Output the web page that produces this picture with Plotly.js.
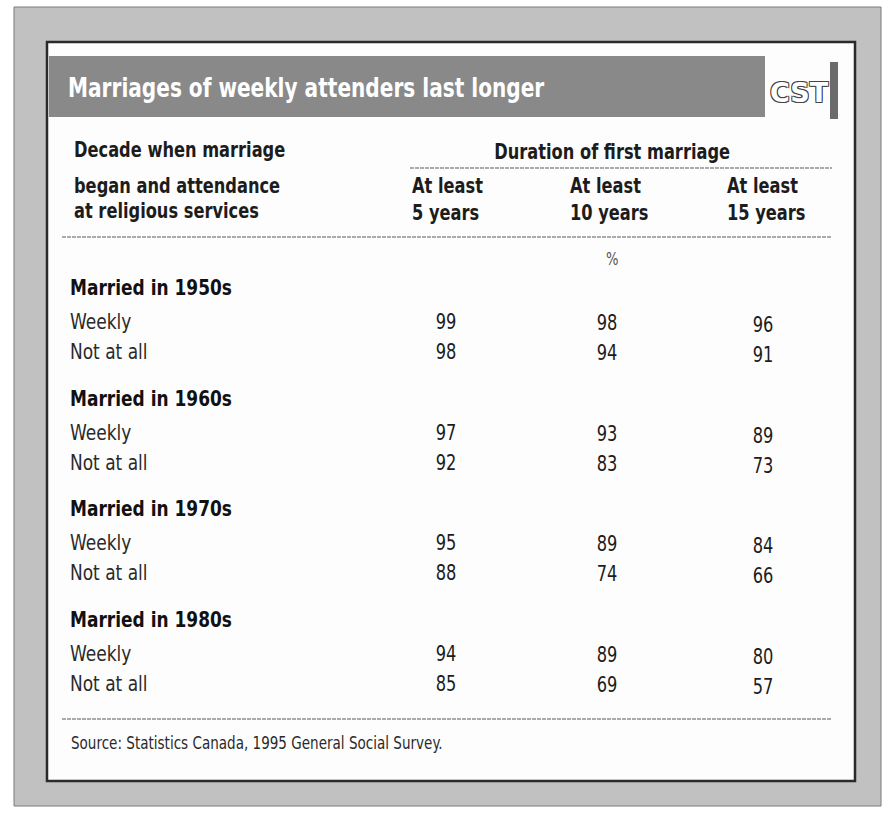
<!DOCTYPE html>
<html>
<head>
<meta charset="utf-8">
<script src="https://cdn.plot.ly/plotly-3.0.1.min.js"></script>
<style>
  html, body { margin: 0; padding: 0; background: #ffffff; }
  #chart { width: 888px; height: 813px; }
</style>
</head>
<body>
<div id="chart"></div>
<script>
// ---------------- DATA ----------------
const chartTitle = "Marriages of weekly attenders last longer";
const stubHeader = ["Decade when marriage", "began and attendance", "at religious services"];
const spannerHeader = "Duration of first marriage";
const columnHeaders = ["At least<br>5 years", "At least<br>10 years", "At least<br>15 years"];
const unitLabel = "%";
const decades = ["Married in 1950s", "Married in 1960s", "Married in 1970s", "Married in 1980s"];
const attendance = ["Weekly", "Not at all"];
// values listed as 1950s weekly, 1950s not at all, 1960s weekly, ...
const atLeast5Years  = [99, 98, 97, 92, 95, 88, 94, 85];
const atLeast10Years = [98, 94, 93, 83, 89, 74, 89, 69];
const atLeast15Years = [96, 91, 89, 73, 84, 66, 80, 57];
const sourceNote = "Source: Statistics Canada, 1995 General Social Survey.";
const logoText = "CST";

// ---------------- LAYOUT CONSTANTS ----------------
const W = 888, H = 813;
const FONT = "'Liberation Sans Narrow', 'DejaVu Sans Condensed', 'Arial Narrow', sans-serif";
const INK = "#1c1c1c";
const colX = [446, 607, 763];
const colDy = [0, 1, 3];            // slight skew of the scanned page
const headLeftX = [410, 568, 725];
const labelX = 70;
const groupY0 = 290, groupPitch = 110.5;
const rowOffset = [0, 34, 64];      // group header, weekly, not at all
const valueSize = 21, labelSize = 22, headSize = 21;
const NARROW = 0.86;                // horizontal condensing of the type

function rowY(g, r) { return groupY0 + g * groupPitch + rowOffset[r]; }

// ---------------- TRACES ----------------
const series = [atLeast5Years, atLeast10Years, atLeast15Years];
const traces = [];

const vx = [], vy = [], vt = [];
series.forEach((vals, c) => {
  vals.forEach((v, i) => {
    const g = Math.floor(i / attendance.length);
    const r = 1 + (i % attendance.length);
    vx.push(colX[c]); vy.push(rowY(g, r) + colDy[c]); vt.push(String(v));
  });
});
traces.push({
  type: "scatter", mode: "text", x: vx, y: vy, text: vt,
  textposition: "middle center",
  textfont: { family: FONT, size: valueSize, color: INK },
  hoverinfo: "skip", showlegend: false, cliponaxis: false
});

traces.push({
  type: "scatter", mode: "text",
  x: decades.map(() => labelX), y: decades.map((d, g) => rowY(g, 0)),
  text: decades.map(d => "<b>" + d + "</b>"),
  textposition: "middle right",
  textfont: { family: FONT, size: labelSize, color: "#111" },
  hoverinfo: "skip", showlegend: false, cliponaxis: false
});

const ax = [], ay = [], at = [];
decades.forEach((d, g) => {
  attendance.forEach((a, k) => { ax.push(labelX); ay.push(rowY(g, k + 1)); at.push(a); });
});
traces.push({
  type: "scatter", mode: "text", x: ax, y: ay, text: at,
  textposition: "middle right",
  textfont: { family: FONT, size: labelSize, color: "#2a2a2a" },
  hoverinfo: "skip", showlegend: false, cliponaxis: false
});

// ---------------- SHAPES ----------------
const ruleLine = { color: "#909090", width: 1.4, dash: "4px,1px" };
const shapes = [
  { type: "rect", xref: "x", yref: "y", x0: 14, x1: 881, y0: 7, y1: 806,
    fillcolor: "#c1c1c1", line: { color: "#7a7a7a", width: 1 }, layer: "below" },
  { type: "rect", xref: "x", yref: "y", x0: 47, x1: 855, y0: 42, y1: 781,
    fillcolor: "#fdfdfd", line: { color: "#2a2a2a", width: 2.5 }, layer: "below" },
  { type: "rect", xref: "x", yref: "y", x0: 49, x1: 765, y0: 56, y1: 117,
    fillcolor: "#898989", line: { width: 0 }, layer: "below" },
  { type: "rect", xref: "x", yref: "y", x0: 830, x1: 838, y0: 62, y1: 119,
    fillcolor: "#6b6b6b", line: { width: 0 }, layer: "below" },
  { type: "line", xref: "x", yref: "y", x0: 410, x1: 832, y0: 168, y1: 168, line: ruleLine },
  { type: "line", xref: "x", yref: "y", x0: 62, x1: 832, y0: 237, y1: 237, line: ruleLine },
  { type: "line", xref: "x", yref: "y", x0: 62, x1: 832, y0: 719, y1: 719, line: ruleLine }
];

// ---------------- ANNOTATIONS ----------------
const ann = [];
function addText(text, x, y, size, opts) {
  ann.push(Object.assign({
    text: text, x: x, y: y, xref: "x", yref: "y", showarrow: false,
    xanchor: "left", yanchor: "middle", align: "left",
    font: { family: FONT, size: size, color: INK }
  }, opts || {}));
}
addText("<b>" + chartTitle + "</b>", 66, 88, 26, { font: { family: FONT, size: 26, color: "#ffffff" } });
addText("<b>" + logoText + "</b>", 799, 92, 27, { xanchor: "center", align: "center",
  font: { family: "'DejaVu Sans', sans-serif", size: 27, color: "#ffffff",
          shadow: "1px 1px 0 #444, -1px -1px 0 #444, 1px -1px 0 #444, -1px 1px 0 #444" } });
addText("<b>" + stubHeader[0] + "</b>", 72, 150, headSize);
addText("<b>" + stubHeader[1] + "</b>", 72, 186, headSize);
addText("<b>" + stubHeader[2] + "</b>", 72, 211, headSize);
addText("<b>" + spannerHeader + "</b>", 612, 152, headSize, { xanchor: "center", align: "center" });
columnHeaders.forEach((h, c) => {
  addText("<b>" + h + "</b>", headLeftX[c], 199, headSize);
});
addText(unitLabel, colX[1] + 5, 259, 17, { xanchor: "center", align: "center",
  font: { family: FONT, size: 17, color: "#555" } });
addText(sourceNote, 69, 743, 17.5, { font: { family: FONT, size: 17.5, color: "#2a2a2a" } });

const layout = {
  width: W, height: H,
  margin: { l: 0, r: 0, t: 0, b: 0, pad: 0 },
  paper_bgcolor: "#ffffff", plot_bgcolor: "rgba(0,0,0,0)",
  xaxis: { range: [0, W], visible: false, fixedrange: true },
  yaxis: { range: [H, 0], visible: false, fixedrange: true },
  shapes: shapes, annotations: ann, showlegend: false
};

Plotly.newPlot("chart", traces, layout, { staticPlot: true, displayModeBar: false }).then(() => {
  // condense the type horizontally, keeping each text's anchor point fixed
  document.querySelectorAll("#chart svg text").forEach(t => {
    if (t.textContent === logoText) return;
    const a = t.getAttribute("text-anchor");
    t.style.transformBox = "fill-box";
    t.style.transformOrigin = a === "middle" ? "50% 50%" : (a === "end" ? "100% 50%" : "0% 50%");
    t.style.transform = "scaleX(" + NARROW + ")";
  });
});
</script>
</body>
</html>
